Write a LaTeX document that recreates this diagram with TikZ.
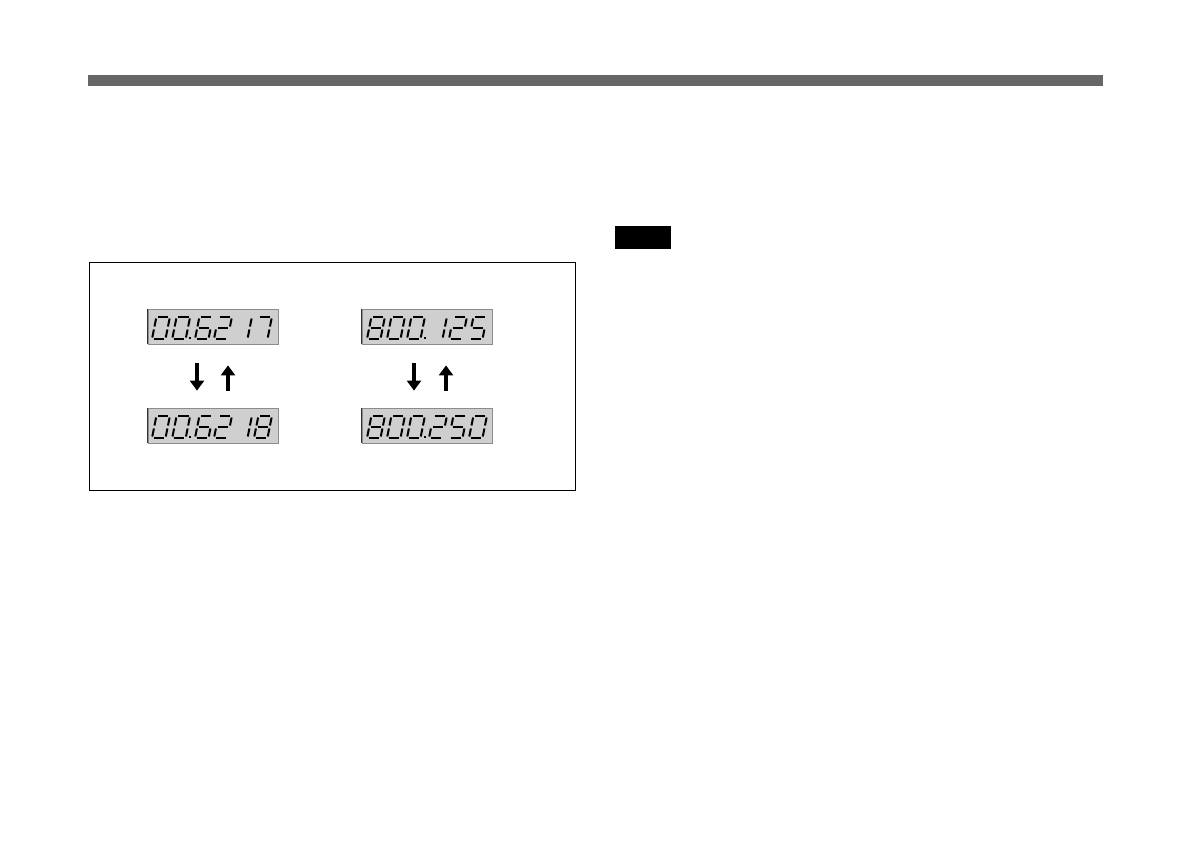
\documentclass[tikz,border=0pt]{standalone}
\usepackage{tikz}
\usetikzlibrary{arrows.meta, positioning, calc}
\definecolor{BarGrey}{HTML}{666666}
\definecolor{LcdGrey}{HTML}{CFCFCF}

% one seven-segment digit, bottom left corner at #1, segments #2
\newcommand{\lcddigit}[2]{%
  \begin{scope}[shift={#1}, xslant=0.2]
    \foreach \s in {#2} \pic[transform shape] {seg \s};
  \end{scope}}
% decimal point beside a digit
\newcommand{\lcddot}[1]{\fill[shift={#1}] (0,-2.2) rectangle (2.4,0);}

\tikzset{
  segline/.style={line width=2pt, line cap=butt, shorten <=1.5pt, shorten >=1.5pt},
  seg a/.pic={\draw[segline] (0,-22) -- (13.5,-22);},
  seg b/.pic={\draw[segline] (13.5,-22) -- (13.5,-11);},
  seg c/.pic={\draw[segline] (13.5,-11) -- (13.5,0);},
  seg d/.pic={\draw[segline] (0,0) -- (13.5,0);},
  seg e/.pic={\draw[segline] (0,0) -- (0,-11);},
  seg f/.pic={\draw[segline] (0,-11) -- (0,-22);},
  seg g/.pic={\draw[segline] (0,-11) -- (13.5,-11);},
}

\begin{document}
\begin{tikzpicture}[
    x=1pt, y=-1pt,
    lcd/.style={rectangle, draw=black!45, fill=LcdGrey, line width=0.8pt, minimum width=130pt, minimum height=35pt, inner sep=0pt},
    updown/.style={-{Triangle[width=14pt, length=10pt]}, line width=4.4pt},
  ]
  \useasboundingbox (0,0) rectangle (1190,840);

  % header bar and marker
  \fill[BarGrey] (88,75) rectangle (1103,86);
  \fill[black] (615,226) rectangle (671,249);

  % frame
  \draw[line width=0.8pt] (89,262) rectangle (575,490);

  % displays
  \node[lcd] (lcdA) at (213,326.5) {};
  \node[lcd] (lcdB) at (213,425.5) {};
  \node[lcd] (lcdC) at (427,326.5) {};
  \node[lcd] (lcdD) at (427,425.5) {};
  \foreach \n in {lcdA,lcdB,lcdC,lcdD}
    \draw[black!80, line width=1.2pt] (\n.north west) -- (\n.south west);

  % 00.62 17
  \lcddigit{(152,339)}{a,b,c,d,e,f}
  \lcddigit{(172.2,339)}{a,b,c,d,e,f}
  \lcddot{(188.5,339)}
  \lcddigit{(195,339)}{a,f,g,e,d,c}
  \lcddigit{(214,339)}{a,b,g,e,d}
  \lcddigit{(234,339)}{b,c}
  \lcddigit{(254,339)}{a,b,c}

  % 00.62 18
  \lcddigit{(152,438)}{a,b,c,d,e,f}
  \lcddigit{(172.2,438)}{a,b,c,d,e,f}
  \lcddot{(188.5,438)}
  \lcddigit{(195,438)}{a,f,g,e,d,c}
  \lcddigit{(214,438)}{a,b,g,e,d}
  \lcddigit{(234,438)}{b,c}
  \lcddigit{(254,438)}{a,b,c,d,e,f,g}

  % 800. 125
  \lcddigit{(367,339)}{a,b,c,d,e,f,g}
  \lcddigit{(387,339)}{a,b,c,d,e,f}
  \lcddigit{(407,339)}{a,b,c,d,e,f}
  \lcddot{(423.5,339)}
  \lcddigit{(429,339)}{b,c}
  \lcddigit{(449,339)}{a,b,g,e,d}
  \lcddigit{(469,339)}{a,f,g,c,d}

  % 800.250
  \lcddigit{(367,438)}{a,b,c,d,e,f,g}
  \lcddigit{(387,438)}{a,b,c,d,e,f}
  \lcddigit{(407,438)}{a,b,c,d,e,f}
  \lcddot{(423.5,438)}
  \lcddigit{(429,438)}{a,b,g,e,d}
  \lcddigit{(449,438)}{a,f,g,c,d}
  \lcddigit{(469,438)}{a,b,c,d,e,f}

  % arrows
  \draw[updown, shorten <=19pt, shorten >=17pt] ([xshift=-16pt]lcdA.south) -- ([xshift=-16pt]lcdB.north);
  \draw[updown, shorten <=17pt, shorten >=21pt] ([xshift=15pt]lcdB.north) -- ([xshift=15pt]lcdA.south);
  \draw[updown, shorten <=19pt, shorten >=17pt] ([xshift=-13pt]lcdC.south) -- ([xshift=-13pt]lcdD.north);
  \draw[updown, shorten <=17pt, shorten >=21pt] ([xshift=19pt]lcdD.north) -- ([xshift=19pt]lcdC.south);

\end{tikzpicture}
\end{document}
